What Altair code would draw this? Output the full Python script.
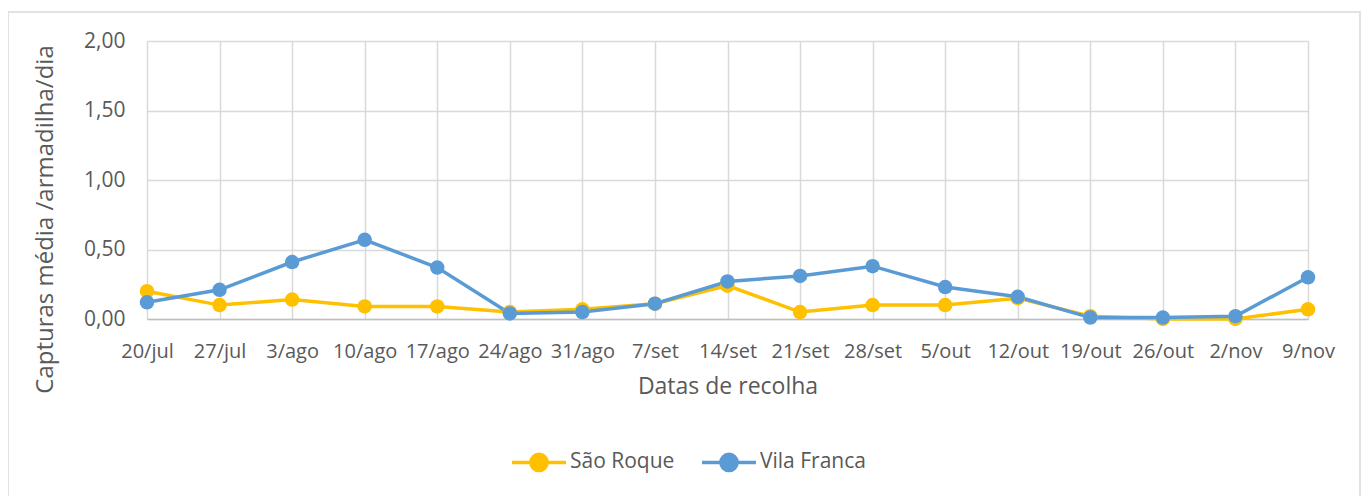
import altair as alt
import pandas as pd

dates = ["20/jul", "27/jul", "3/ago", "10/ago", "17/ago", "24/ago", "31/ago", "7/set",
         "14/set", "21/set", "28/set", "5/out", "12/out", "19/out", "26/out", "2/nov", "9/nov"]
sao_roque = [0.20, 0.10, 0.14, 0.09, 0.09, 0.05, 0.07, 0.11, 0.24, 0.05, 0.10, 0.10, 0.15, 0.02, 0.00, 0.00, 0.07]
vila_franca = [0.12, 0.21, 0.41, 0.57, 0.37, 0.04, 0.05, 0.11, 0.27, 0.31, 0.38, 0.23, 0.16, 0.01, 0.01, 0.02, 0.30]
series = ["São Roque", "Vila Franca"]
colors = ["#FFC000", "#5B9BD5"]

rows = []
for d, a, b in zip(dates, sao_roque, vila_franca):
    rows.append({"data": d, "serie": series[0], "valor": a})
    rows.append({"data": d, "serie": series[1], "valor": b})
df = pd.DataFrame(rows)

FONT = "Open Sans"
TXT = "#595959"

x = alt.X("data:N", sort=dates, title="Datas de recolha",
          scale=alt.Scale(type="point", padding=0),
          axis=alt.Axis(labelAngle=0, labelFontSize=20, labelColor=TXT, titleFontSize=23,
                        titleColor=TXT, titleFontWeight="normal", titlePadding=14,
                        labelPadding=22, grid=True, gridColor="#D9D9D9", gridWidth=1.5,
                        domainColor="#BFBFBF", domainWidth=1.5, ticks=False))
y = alt.Y("valor:Q", title="Capturas média /armadilha/dia",
          scale=alt.Scale(domain=[0, 2]),
          axis=alt.Axis(values=[0, 0.5, 1, 1.5, 2], labelExpr="replace(format(datum.value, '.2f'), '.', ',')",
                        labelFontSize=21, labelColor=TXT, titleFontSize=24, titleColor=TXT,
                        titleFontWeight="normal", titleX=-102, titleY=178, titleAlign="center",
                        titleBaseline="middle", labelPadding=22,
                        gridColor="#D9D9D9", gridWidth=1.5, domain=False, ticks=False))
color = alt.Color("serie:N", sort=series,
                  scale=alt.Scale(domain=series, range=colors),
                  legend=alt.Legend(title=None, orient="none", legendX=363, legendY=392,
                                    direction="horizontal", columnPadding=20,
                                    symbolType="M-1,0H1M-0.3,0a0.3,0.3 0 1,0 0.6,0a0.3,0.3 0 1,0 -0.6,0",
                                    symbolSize=2916, symbolStrokeWidth=3.5,
                                    labelFontSize=21, labelColor=TXT, labelOffset=2))

base = alt.Chart(df)
lines = base.mark_line(strokeWidth=3.5).encode(x=x, y=y, color=color)
points = base.mark_circle(size=210, opacity=1).encode(x=x, y=y, color=color)

border = alt.Chart(pd.DataFrame({"a": [0]})).mark_rect(fill=None, stroke="#D9D9D9", strokeWidth=1.5).encode(
    x=alt.value(-139), x2=alt.value(1213), y=alt.value(-29), y2=alt.value(500))

chart = alt.layer(border, lines, points).properties(
    width=1161, height=278,
    autosize=alt.AutoSizeParams(type="none"),
    padding={"left": 139, "top": 33, "right": 53, "bottom": 200},
).configure(font=FONT).configure_view(stroke=None)

chart.save("out.html", embed_options={"renderer": "svg", "actions": False})
